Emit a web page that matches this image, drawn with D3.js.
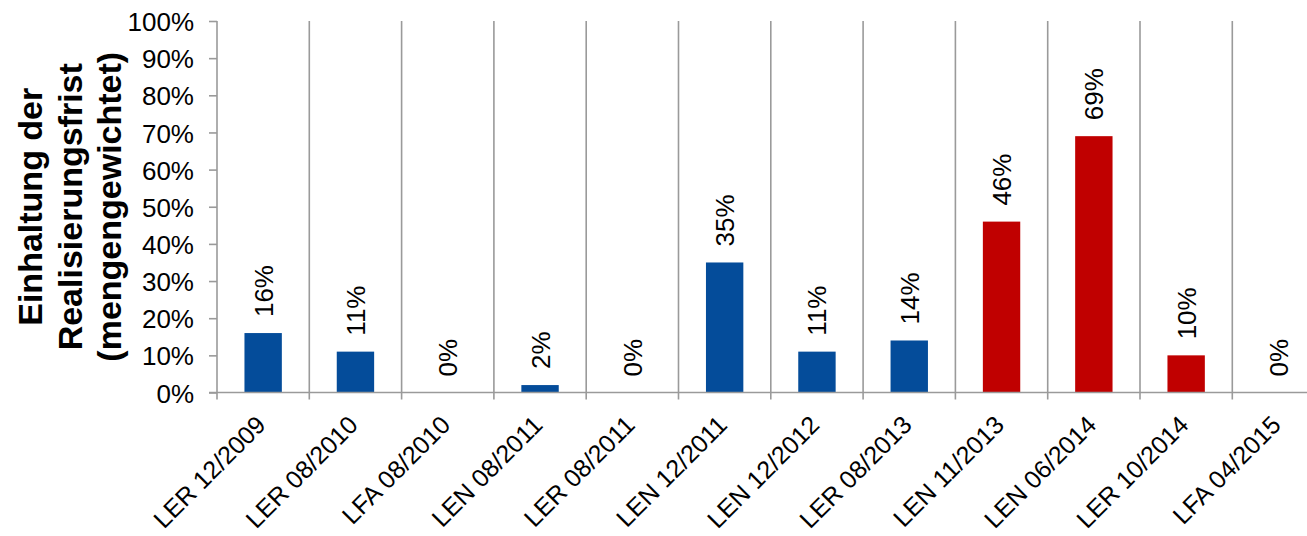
<!DOCTYPE html>
<html>
<head>
<meta charset="utf-8">
<script src="https://cdn.jsdelivr.net/npm/d3@7"></script>
<style>
  html, body { margin: 0; padding: 0; background: #fff; }
  svg { display: block; font-family: Arial, "Liberation Sans", sans-serif; }
</style>
</head>
<body>
<svg id="chart" width="1307" height="536"></svg>
<script>
// Auction rounds and the share of volume realised within the deadline
const categories = ["LER 12/2009", "LER 08/2010", "LFA 08/2010", "LEN 08/2011", "LER 08/2011",
  "LEN 12/2011", "LEN 12/2012", "LER 08/2013", "LEN 11/2013", "LEN 06/2014", "LER 10/2014", "LFA 04/2015"];
const values = [16, 11, 0, 2, 0, 35, 11, 14, 46, 69, 10, 0];
const groups = ["blue", "blue", "blue", "blue", "blue", "blue", "blue", "blue", "red", "red", "red", "red"];
const yTicks = [0, 10, 20, 30, 40, 50, 60, 70, 80, 90, 100];
const titleLines = ["Einhaltung der", "Realisierungsfrist", "(mengengewichtet)"];

const colors = { blue: "#044C9A", red: "#C00000" };
const gridColor = "#9A9A9A";

const svg = d3.select("#chart");
const W = 1307;
const plot = { left: 217, top: 21, bottom: 392.5, step: 92.3 };

const x = d3.scaleBand()
  .domain(categories)
  .range([plot.left, plot.left + plot.step * categories.length])
  .paddingInner(0).paddingOuter(0);
const y = d3.scaleLinear().domain([0, 100]).range([plot.bottom, plot.top]);
const barW = x.bandwidth() * 0.405;

// vertical separators between categories (with small tick below the axis)
const bounds = categories.map(c => x(c) + x.bandwidth());
svg.append("g").selectAll("line").data(bounds).join("line")
  .attr("x1", d => d).attr("x2", d => d)
  .attr("y1", y(100)).attr("y2", plot.bottom + 7)
  .attr("stroke", gridColor).attr("stroke-width", 1.6);

// bars
svg.append("g").selectAll("rect").data(categories).join("rect")
  .attr("x", (c) => x(c) + (x.bandwidth() - barW) / 2)
  .attr("width", barW)
  .attr("y", (c, i) => y(values[i]))
  .attr("height", (c, i) => plot.bottom - y(values[i]))
  .attr("fill", (c, i) => colors[groups[i]]);

// y axis
const yAxis = d3.axisLeft(y).tickValues(yTicks).tickSize(8).tickPadding(15)
  .tickFormat(d => d + "%");
const gy = svg.append("g").attr("transform", `translate(${plot.left},0)`).call(yAxis);
gy.select(".domain").remove();
gy.selectAll(".tick line").attr("stroke", gridColor).attr("stroke-width", 1.6);
gy.selectAll(".tick text").attr("fill", "#000").attr("font-size", 26)
  .attr("font-family", "Arial, 'Liberation Sans', sans-serif").attr("dy", "0.37em");
svg.append("line")
  .attr("x1", plot.left).attr("x2", plot.left)
  .attr("y1", y(100)).attr("y2", plot.bottom + 7)
  .attr("stroke", gridColor).attr("stroke-width", 1.6);

// x axis baseline
svg.append("line")
  .attr("x1", plot.left - 8).attr("x2", W)
  .attr("y1", plot.bottom).attr("y2", plot.bottom)
  .attr("stroke", gridColor).attr("stroke-width", 1.6);

// category labels, rotated
svg.append("g").selectAll("text").data(categories).join("text")
  .attr("transform", c => `translate(${x(c) + x.bandwidth() / 2 + 4},${plot.bottom + 34}) rotate(-45)`)
  .attr("text-anchor", "end")
  .attr("font-size", 25)
  .attr("fill", "#000")
  .text(c => c);

// value labels above the bars
svg.append("g").selectAll("text").data(categories).join("text")
  .attr("transform", (c, i) => `translate(${x(c) + x.bandwidth() / 2 + 9.5},${y(values[i]) - 16}) rotate(-90)`)
  .attr("text-anchor", "start")
  .attr("font-size", 26)
  .attr("fill", "#000")
  .text((c, i) => values[i] + "%");

// y axis title
const titleCy = (plot.top + plot.bottom) / 2;
const title = svg.append("text")
  .attr("transform", `translate(42,${titleCy}) rotate(-90)`)
  .attr("text-anchor", "middle")
  .attr("font-size", 34)
  .attr("font-weight", "bold")
  .attr("fill", "#000");
title.selectAll("tspan").data(titleLines).join("tspan")
  .attr("x", 0)
  .attr("y", (d, i) => i * 39.5)
  .text(d => d);
</script>
</body>
</html>
